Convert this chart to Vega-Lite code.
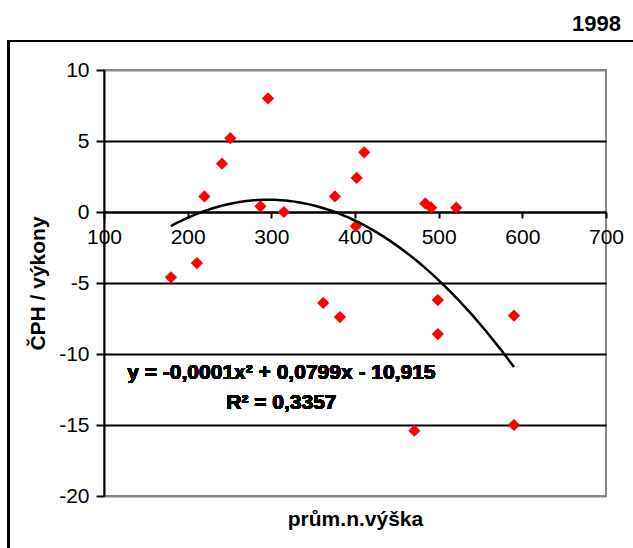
{
  "$schema": "https://vega.github.io/schema/vega-lite/v6.json",
  "autosize": "none",
  "width": 502,
  "height": 426,
  "padding": {"left": 104, "top": 70, "right": 27, "bottom": 52},
  "background": "white",
  "title": {
    "text": "1998",
    "anchor": "end",
    "frame": "group",
    "orient": "top",
    "font": "Liberation Sans",
    "fontSize": 22,
    "fontWeight": "bold",
    "color": "black",
    "dx": 15,
    "offset": 4
  },
  "config": {
    "font": "Liberation Sans",
    "view": {"stroke": "#8a8a8a", "strokeWidth": 2}
  },
  "data": {
    "values": [
      {"vyska": 180, "cph": -4.6},
      {"vyska": 211, "cph": -3.6},
      {"vyska": 220, "cph": 1.1},
      {"vyska": 241, "cph": 3.4},
      {"vyska": 251, "cph": 5.2},
      {"vyska": 287, "cph": 0.4},
      {"vyska": 296, "cph": 8.0},
      {"vyska": 315, "cph": 0.0},
      {"vyska": 362, "cph": -6.4},
      {"vyska": 376, "cph": 1.1},
      {"vyska": 382, "cph": -7.4},
      {"vyska": 401, "cph": -1.0},
      {"vyska": 402, "cph": 2.4},
      {"vyska": 411, "cph": 4.2},
      {"vyska": 471, "cph": -15.4},
      {"vyska": 484, "cph": 0.6},
      {"vyska": 491, "cph": 0.3},
      {"vyska": 499, "cph": -6.2},
      {"vyska": 499, "cph": -8.6},
      {"vyska": 521, "cph": 0.3},
      {"vyska": 590, "cph": -7.3},
      {"vyska": 590, "cph": -15.0}
    ]
  },
  "encoding": {
    "x": {
      "field": "vyska",
      "type": "quantitative",
      "scale": {"domain": [100, 700], "nice": false, "zero": false},
      "axis": {
        "orient": "bottom",
        "offset": -284,
        "values": [100, 200, 300, 400, 500, 600, 700],
        "grid": false,
        "domainColor": "black",
        "domainWidth": 2,
        "tickColor": "black",
        "tickWidth": 2,
        "tickSize": 6,
        "labelFontSize": 21,
        "labelColor": "black",
        "labelPadding": 8,
        "labelOverlap": false,
        "labelFlush": false,
        "labelBound": false,
        "title": "prům.n.výška",
        "titleFontSize": 21,
        "titleFontWeight": "bold",
        "titleColor": "black",
        "titlePadding": 261
      }
    },
    "y": {
      "field": "cph",
      "type": "quantitative",
      "scale": {"domain": [-20, 10], "nice": false, "zero": false},
      "axis": {
        "orient": "left",
        "values": [-20, -15, -10, -5, 0, 5, 10],
        "labelExpr": "replace(datum.label, '−', '-')",
        "grid": true,
        "gridColor": {"condition": {"test": "datum.value === 10 || datum.value === -20", "value": "#8a8a8a"}, "value": "black"},
        "gridWidth": 2,
        "gridOpacity": 1,
        "domainColor": "black",
        "domainWidth": 2,
        "tickColor": "black",
        "tickWidth": 2,
        "tickSize": 8,
        "labelFontSize": 21,
        "labelColor": "black",
        "labelPadding": 7,
        "labelFlush": false,
        "labelBound": false,
        "title": "ČPH / výkony",
        "titleFontSize": 21,
        "titleFontWeight": "bold",
        "titleColor": "black",
        "titlePadding": 10
      }
    }
  },
  "layer": [
    {
      "mark": {"type": "rect", "fill": null, "stroke": "black", "strokeWidth": 2, "clip": false},
      "encoding": {
        "x": {"datum": -14.5},
        "x2": {"datum": 745},
        "y": {"datum": 12.05},
        "y2": {"datum": -25}
      }
    },
    {
      "mark": {"type": "point", "shape": "diamond", "filled": true, "color": "#ff0000", "size": 150, "opacity": 1}
    },
    {
      "transform": [
        {"regression": "cph", "on": "vyska", "method": "poly", "order": 2}
      ],
      "mark": {"type": "line", "color": "black", "strokeWidth": 2.5},
      "encoding": {}
    },
    {
      "mark": {"type": "text", "fontWeight": "bold", "fontSize": 21, "color": "black", "align": "center", "baseline": "middle"},
      "encoding": {
        "x": {"datum": 312},
        "y": {"datum": -11.35},
        "text": {"value": "y = -0,0001x² + 0,0799x - 10,915"}
      }
    },
    {
      "mark": {"type": "text", "fontWeight": "bold", "fontSize": 21, "color": "black", "align": "center", "baseline": "middle"},
      "encoding": {
        "x": {"datum": 312},
        "y": {"datum": -13.45},
        "text": {"value": "R² = 0,3357"}
      }
    }
  ]
}
